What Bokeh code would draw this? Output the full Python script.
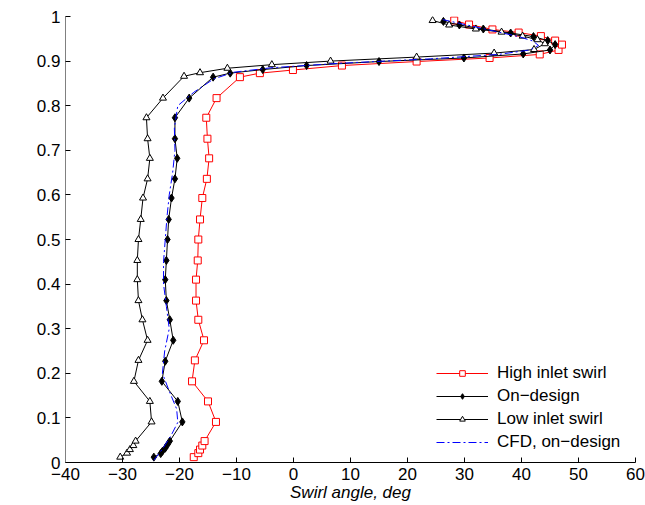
import math
from bokeh.plotting import figure
from bokeh.models import Label, Legend, LegendItem, FixedTicker
from bokeh.embed import file_html
from bokeh.resources import INLINE

# ---------------- data ----------------
x_ticks = [-40, -30, -20, -10, 0, 10, 20, 30, 40, 50, 60]
x_tick_labels = ["\u221240", "\u221230", "\u221220", "\u221210", "0", "10", "20", "30", "40", "50", "60"]
y_ticks = [0, 0.1, 0.2, 0.3, 0.4, 0.5, 0.6, 0.7, 0.8, 0.9, 1]
y_tick_labels = ["0", "0.1", "0.2", "0.3", "0.4", "0.5", "0.6", "0.7", "0.8", "0.9", "1"]

high_span = [0.012, 0.021, 0.029, 0.038, 0.048, 0.091, 0.137, 0.182, 0.229, 0.274,
             0.320, 0.363, 0.410, 0.453, 0.500, 0.545, 0.593, 0.636, 0.682, 0.726,
             0.773, 0.817, 0.864, 0.873, 0.880, 0.890, 0.899, 0.907, 0.915, 0.925,
             0.937, 0.946, 0.956, 0.964, 0.971, 0.982, 0.991]
high_swirl = [-17.5, -16.7, -16.4, -16.0, -15.6, -13.6, -15.0, -17.8, -17.3, -15.7,
              -16.7, -17.1, -17.1, -16.8, -16.7, -16.4, -16.0, -15.2, -14.8, -15.1,
              -15.3, -13.5, -9.4, -5.9, -0.1, 8.5, 21.6, 34.4, 43.2, 46.5,
              47.1, 45.9, 43.4, 39.5, 34.9, 30.8, 28.2]

on_span = [0.012, 0.020, 0.025, 0.032, 0.040, 0.048, 0.091, 0.137, 0.182, 0.227,
           0.274, 0.320, 0.363, 0.410, 0.453, 0.500, 0.545, 0.593, 0.636, 0.682,
           0.726, 0.773, 0.817, 0.864, 0.873, 0.881, 0.890, 0.899, 0.907, 0.916,
           0.925, 0.937, 0.946, 0.955, 0.963, 0.972, 0.981, 0.989]
on_swirl = [-24.5, -23.3, -23.0, -22.5, -22.1, -21.7, -19.5, -20.3, -23.1, -22.5,
            -21.1, -21.7, -22.3, -22.5, -22.3, -22.1, -21.9, -21.4, -20.8, -20.4,
            -20.8, -20.8, -18.3, -14.1, -11.1, -5.4, 2.3, 15.0, 29.9, 40.3,
            45.0, 45.9, 44.6, 42.1, 38.1, 33.3, 29.1, 26.3]

low_span = [0.012, 0.021, 0.029, 0.038, 0.048, 0.091, 0.137, 0.182, 0.229, 0.274,
            0.320, 0.363, 0.410, 0.453, 0.500, 0.545, 0.593, 0.636, 0.682, 0.726,
            0.773, 0.817, 0.866, 0.874, 0.884, 0.892, 0.900, 0.909, 0.918, 0.926,
            0.939, 0.948, 0.956, 0.965, 0.972, 0.981, 0.991]
low_swirl = [-30.4, -29.2, -28.7, -28.1, -27.7, -24.9, -25.2, -28.0, -27.2, -25.6,
             -26.5, -27.2, -27.4, -27.4, -27.2, -26.8, -26.4, -25.6, -25.2, -25.6,
             -25.8, -22.9, -19.2, -16.4, -11.6, -3.8, 6.5, 21.6, 35.2, 42.2,
             44.1, 42.8, 40.2, 36.5, 32.0, 27.3, 24.4]

cfd_span = [0.005, 0.03, 0.06, 0.09, 0.12, 0.16, 0.20, 0.25, 0.30, 0.35,
            0.40, 0.45, 0.50, 0.55, 0.60, 0.65, 0.70, 0.75, 0.80, 0.83,
            0.86, 0.875, 0.885, 0.895, 0.905, 0.915, 0.925, 0.935, 0.945, 0.955,
            0.965, 0.975, 0.985, 0.993]
cfd_swirl = [-24.5, -23.0, -21.5, -20.3, -20.5, -21.8, -23.0, -22.6, -21.8, -22.3,
             -22.8, -22.8, -22.5, -22.2, -21.8, -21.2, -20.8, -20.9, -20.3, -17.5,
             -14.0, -10.5, -4.0, 8.0, 24.0, 36.0, 41.5, 43.0, 42.0, 39.5,
             36.0, 32.5, 29.0, 26.2]

series_names = ["High inlet swirl", "On\u2212design", "Low inlet swirl", "CFD, on\u2212design"]
x_label = "Swirl angle, deg"
y_label = "Span"

FONT = "Liberation Sans"

# ---------------- figure ----------------
p = figure(width=645, height=505, x_range=(-40, 60), y_range=(0, 1),
           output_backend="svg", toolbar_location=None,
           min_border_left=65, min_border_right=10, min_border_top=16, min_border_bottom=43)
p.outline_line_color = None
p.grid.grid_line_color = None
p.background_fill_color = "white"
p.border_fill_color = "white"

for ax, ticks, labels in ((p.xaxis[0], x_ticks, x_tick_labels), (p.yaxis[0], y_ticks, y_tick_labels)):
    ax.ticker = FixedTicker(ticks=ticks)
    ax.major_label_overrides = dict(zip(ticks, labels))
    ax.major_tick_in = 5
    ax.major_tick_out = 0
    ax.minor_tick_line_color = None
    ax.major_tick_line_color = "black"
    ax.major_label_text_font = FONT
    ax.major_label_text_font_size = "17px"
    ax.major_label_text_color = "black"

p.xaxis.axis_line_color = "black"
p.xaxis.major_label_standoff = 5
p.xaxis.axis_label = x_label
p.xaxis.axis_label_standoff = 0
p.xaxis.axis_label_text_font = FONT
p.xaxis.axis_label_text_font_size = "17px"
p.xaxis.axis_label_text_font_style = "italic"
p.xaxis.axis_label_text_color = "black"
p.yaxis.axis_line_color = "#808080"
p.yaxis.major_label_standoff = 5

# high inlet swirl
r_hl = p.line(high_swirl, high_span, line_color="#ff0000", line_width=1)
r_hm = p.scatter(high_swirl, high_span, marker="square", size=7,
                 line_color="#ff0000", fill_color="white", line_width=1)
# on-design
r_ol = p.line(on_swirl, on_span, line_color="black", line_width=1)
r_om = p.scatter(on_swirl, on_span, marker="diamond", size=8,
                 line_color="black", fill_color="black", line_width=1)
# low inlet swirl
r_ll = p.line(low_swirl, low_span, line_color="black", line_width=1)
r_lm = p.scatter(low_swirl, low_span, marker="triangle", size=7,
                 line_color="black", fill_color="white", line_width=1)
# CFD
r_cfd = p.line(cfd_swirl, cfd_span, line_color="#0000ff", line_width=1, line_dash="8 3 2 3")

legend = Legend(items=[
    LegendItem(label=series_names[0], renderers=[r_hl, r_hm]),
    LegendItem(label=series_names[1], renderers=[r_ol, r_om]),
    LegendItem(label=series_names[2], renderers=[r_ll, r_lm]),
    LegendItem(label=series_names[3], renderers=[r_cfd]),
], location=(371, 9))
legend.padding = 0
legend.margin = 0
legend.spacing = 0
legend.glyph_width = 52
legend.glyph_height = 14
legend.label_height = 23
legend.label_standoff = 9
legend.label_text_font = FONT
legend.label_text_font_size = "17px"
legend.label_text_color = "black"
legend.border_line_color = None
legend.background_fill_alpha = 0
p.add_layout(legend, "center")

p.add_layout(Label(x=-48, y=0.5, x_units="screen", y_units="data", text=y_label,
                   angle=math.pi / 2, text_font=FONT, text_font_size="17px",
                   text_font_style="italic", text_align="center", text_baseline="middle",
                   text_color="black"))

open("out.html", "w").write(file_html(p, INLINE))
